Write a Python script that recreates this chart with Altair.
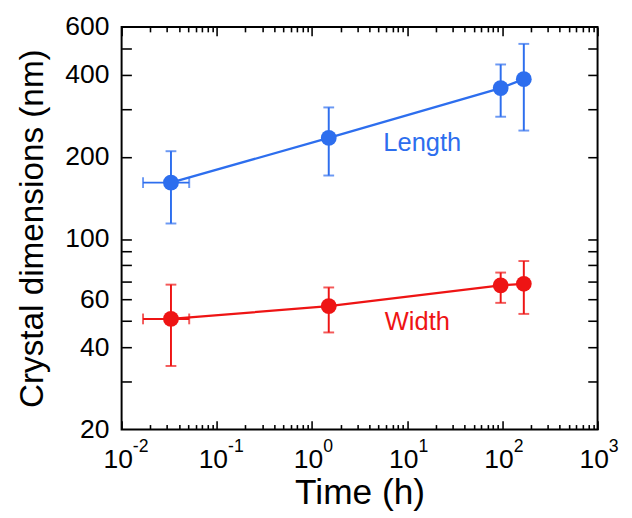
import altair as alt
import pandas as pd

# ---- data ----
time_h = [0.033, 1.5, 96, 168]
time_lo_first = 0.0168
time_hi_first = 0.0513

length_nm = [161, 235, 358, 386]
length_lo = [114, 171, 281, 250]
length_hi = [210, 304, 437, 520]

width_nm = [50.9, 56.7, 67.6, 68.5]
width_lo = [34.2, 45.4, 58.3, 53.1]
width_hi = [68.0, 66.4, 75.3, 83.0]

series_names = ["Length", "Width"]
series_colors = ["#2D6EEE", "#EE1414"]

label_text = ["Length", "Width"]
label_t = [14.4, 12.8]
label_v = [224, 49.7]

x_major = [0.01, 0.1, 1, 10, 100, 1000]
x_tick_base = "10"
x_tick_exp = ["-2", "-1", "0", "1", "2", "3"]
x_minor = [k * m for m in [0.01, 0.1, 1, 10, 100] for k in range(2, 10)]
y_label_vals = [20, 40, 60, 100, 200, 400, 600]
y_ticks = [30, 40, 50, 60, 70, 80, 90, 100, 200, 300, 400, 500]

W, H = 486, 411
FONT = "Liberation Sans"

rows = []
for name, vals, lo, hi in [("Length", length_nm, length_lo, length_hi),
                           ("Width", width_nm, width_lo, width_hi)]:
    for i, t in enumerate(time_h):
        rows.append({
            "series": name, "t": t, "v": vals[i], "lo": lo[i], "hi": hi[i],
            "tlo": time_lo_first if i == 0 else None,
            "thi": time_hi_first if i == 0 else None,
        })
df = pd.DataFrame(rows)
df_x = df.dropna(subset=["tlo"])
df_lab = pd.DataFrame({"series": label_text, "t": label_t, "v": label_v})

xs = alt.Scale(type="log", domain=[0.01, 1000], nice=False)
ys = alt.Scale(type="log", domain=[20, 600], nice=False)
col = alt.Color("series:N", scale=alt.Scale(domain=series_names, range=series_colors), legend=None)

exp_expr = ""
for v, lab in zip(x_major[:-1], x_tick_exp[:-1]):
    exp_expr += f"datum.value < {v * 1.5} ? '{lab}' : "
exp_expr += f"'{x_tick_exp[-1]}'"

ax_x_lab = alt.Axis(orient="bottom", values=x_major, labelExpr=f"'{x_tick_base}'", ticks=False,
                    domain=False, grid=False, labelFont=FONT, labelFontSize=27, labelColor="black",
                    labelPadding=18, labelOffset=-4, labelFlush=False, labelOverlap=False,
                    title="Time (h)", titleFont=FONT, titleFontSize=36, titleFontWeight="normal",
                    titleColor="black", titlePadding=4)
ax_x_exp = alt.Axis(orient="bottom", values=x_major, labelExpr=exp_expr, ticks=False,
                    domain=False, grid=False, labelFont=FONT, labelFontSize=18, labelColor="black",
                    labelPadding=9, labelOffset=11, labelAlign="left", labelFlush=False,
                    labelOverlap=False, title=None)
ax_y_lab = alt.Axis(orient="left", values=y_label_vals, format="d", ticks=False, domain=False,
                    grid=False, labelFont=FONT, labelFontSize=27, labelColor="black",
                    labelPadding=13, labelFlush=False, labelOverlap=False,
                    title="Crystal dimensions (nm)", titleFont=FONT, titleFontSize=34,
                    titleFontWeight="normal", titleColor="black", titlePadding=16)


def tick_axis(orient, values, size, offset):
    return alt.Axis(orient=orient, values=values, labels=False, domain=False, grid=False,
                    ticks=True, tickSize=size, tickWidth=1.6, tickColor="black",
                    offset=offset, title=None)


def ghost(xaxis, yaxis):
    return alt.Chart(df).mark_point(opacity=0).encode(
        x=alt.X("t:Q", scale=xs, axis=xaxis),
        y=alt.Y("v:Q", scale=ys, axis=yaxis),
    )


line = alt.Chart(df).mark_line(strokeWidth=2.3).encode(
    x=alt.X("t:Q", scale=xs, axis=ax_x_lab),
    y=alt.Y("v:Q", scale=ys, axis=ax_y_lab),
    color=col,
)
vbar = alt.Chart(df).mark_rule(strokeWidth=2).encode(
    x=alt.X("t:Q", scale=xs, axis=None),
    y=alt.Y("lo:Q", scale=ys, axis=None), y2="hi:Q", color=col)
cap_lo = alt.Chart(df).mark_tick(orient="horizontal", size=11, thickness=2).encode(
    x=alt.X("t:Q", scale=xs, axis=None), y=alt.Y("lo:Q", scale=ys, axis=None), color=col)
cap_hi = alt.Chart(df).mark_tick(orient="horizontal", size=11, thickness=2).encode(
    x=alt.X("t:Q", scale=xs, axis=None), y=alt.Y("hi:Q", scale=ys, axis=None), color=col)
hbar = alt.Chart(df_x).mark_rule(strokeWidth=2).encode(
    x=alt.X("tlo:Q", scale=xs, axis=None), x2="thi:Q",
    y=alt.Y("v:Q", scale=ys, axis=None), color=col)
capx_lo = alt.Chart(df_x).mark_tick(orient="vertical", size=11, thickness=2).encode(
    x=alt.X("tlo:Q", scale=xs, axis=None), y=alt.Y("v:Q", scale=ys, axis=None), color=col)
capx_hi = alt.Chart(df_x).mark_tick(orient="vertical", size=11, thickness=2).encode(
    x=alt.X("thi:Q", scale=xs, axis=None), y=alt.Y("v:Q", scale=ys, axis=None), color=col)
pts = alt.Chart(df).mark_circle(size=260, opacity=1).encode(
    x=alt.X("t:Q", scale=xs, axis=None), y=alt.Y("v:Q", scale=ys, axis=None), color=col)
txt = alt.Chart(df_lab).mark_text(font=FONT, fontSize=26).encode(
    x=alt.X("t:Q", scale=xs, axis=None), y=alt.Y("v:Q", scale=ys, axis=None),
    text="series:N", color=col)

g0 = ghost(ax_x_exp, None)
g1 = ghost(tick_axis("top", x_major, 9, -H), tick_axis("right", y_ticks, 10, -W))
g2 = ghost(tick_axis("top", x_minor, 5, -H), None)
g3 = ghost(tick_axis("bottom", x_major, 9, -H), tick_axis("left", y_ticks, 10, -W))
g4 = ghost(tick_axis("bottom", x_minor, 5, -H), None)

chart = alt.layer(
    line, g0, g1, g2, g3, g4, vbar, cap_lo, cap_hi, hbar, capx_lo, capx_hi, pts, txt
).resolve_axis(x="independent", y="independent").properties(
    width=W, height=H, padding={"left": 7, "top": 0, "right": 5, "bottom": 0},
    background="white",
).configure_view(stroke="black", strokeWidth=2)

chart.save("out.html", embed_options={"renderer": "svg", "actions": False})
